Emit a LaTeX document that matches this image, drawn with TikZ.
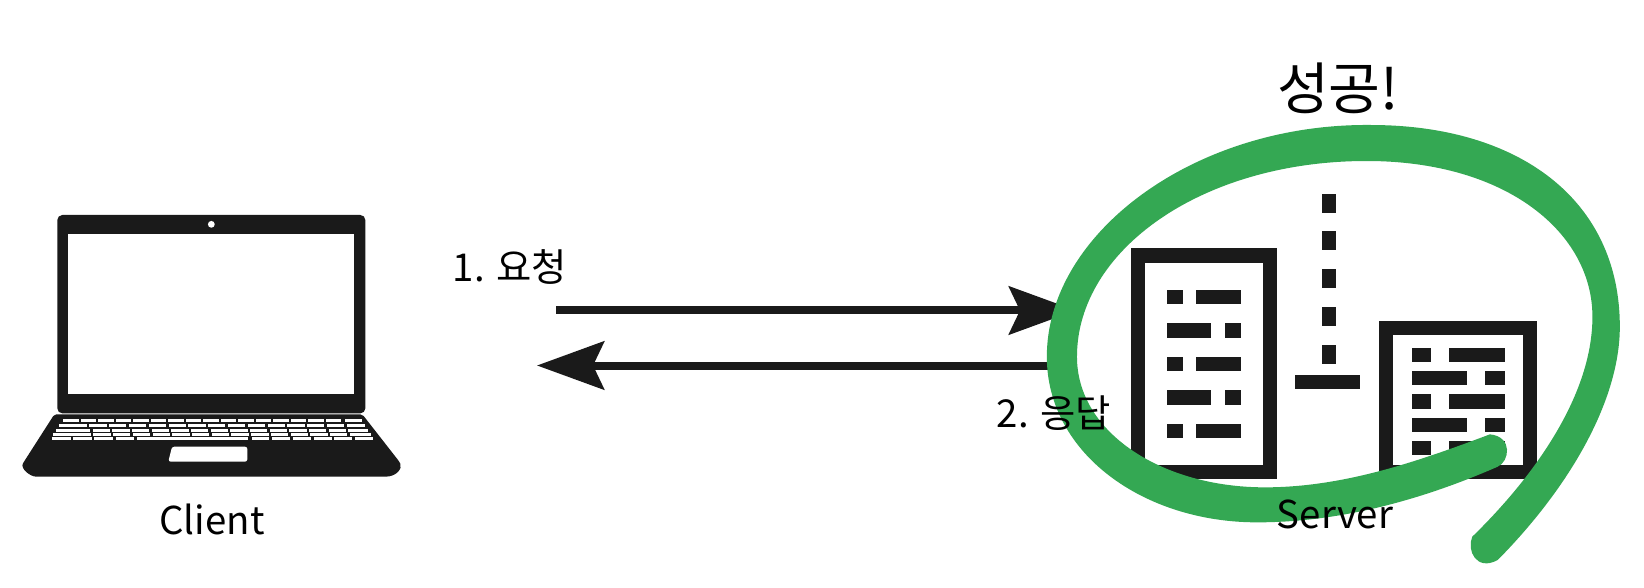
\documentclass[tikz,border=0pt]{standalone}
\usepackage{fontspec}
\setmainfont{Noto Sans CJK KR}
\usetikzlibrary{arrows.meta}
\definecolor{ink}{HTML}{1A1A1A}
\definecolor{ringgreen}{HTML}{34A853}
\tikzset{
 label38/.style={inner sep=0pt,text=black,font=\fontsize{19.2}{22}\selectfont},
 labelbig/.style={inner sep=0pt,text=black,font=\fontsize{28.2}{32}\selectfont},
 flow/.style={ink,line width=4pt,-{Stealth[length=33.5pt,width=24pt,inset=5.5pt]}}
}
\begin{document}
\begin{tikzpicture}[x=0.5pt,y=-0.5pt]
\useasboundingbox (0,0) rectangle (1644,588);
\fill[white] (0,0) rectangle (1644,588);
% laptop
\begin{scope}[shift={(0,200)},x=0.1666667pt,y=-0.1666667pt]
 \fill[ink,rounded corners=2.5pt] (172,45) rectangle (1096,640);
 \fill[white] (205,103) rectangle (1062,583);
 \fill[white] (634,73) circle (1.7pt);
 \fill[ink,rounded corners=1pt] (163,643) -- (1087,643) -- (1198,785)
   .. controls (1208,805) and (1190,830) .. (1150,830) -- (115,830)
   .. controls (90,830) and (60,805) .. (72,785) -- cycle;
 \fill[white,rounded corners=1.2pt] (516,740) -- (742,740) -- (742,785) -- (505,785) -- cycle;
 % keyboard row 0
 \foreach \i in {0,...,15}{
   \fill[white] ({190+\i*52.5},656) rectangle ({190+\i*52.5+46},667);}
 \fill[white] (1035,656) rectangle (1085,667);
 % keyboard rows 1 to 3
 \foreach \ya/\yb/\fa/\fb/\st/\pt/\la/\lb in {671/682/178/262/268/59.4/1040/1095,686/696/168/270/278/59/1045/1105,699/709/160/272/280/59.2/1050/1112}{
   \fill[white] (\fa,\ya) rectangle (\fb,\yb);
   \foreach \i in {0,...,12}{
     \fill[white] ({\st+\i*\pt},\ya) rectangle ({\st+\i*\pt+52},\yb);}
   \fill[white] (\la,\ya) rectangle (\lb,\yb);
 }
 % keyboard row 4
 \foreach \a/\b in {155/212,220/275,283/338,347/402,410/745,755/808,817/870,880/932,941/995,1003/1057,1065/1118}{
   \fill[white] (\a,711) rectangle (\b,721);}
\end{scope}
% arrows
\coordinate (reqS) at (556,310.5);
\coordinate (reqE) at (1076,310.5);
\coordinate (resS) at (1060,365.5);
\coordinate (resE) at (537,365.5);
\draw[flow] (reqS) -- (reqE);
\draw[flow] (resS) -- (resE);
% buildings and ring
\begin{scope}[shift={(1030,100)},x=0.1956947pt,y=-0.1666667pt]
 \fill[ink] (258,445) rectangle (631,1137);
 \fill[white] (293,488) rectangle (596,1095);
 \foreach \y in {569,770,971}{
  \fill[ink] (350,\y) rectangle (390,\y+43);
  \fill[ink] (425,\y) rectangle (538,\y+43);}
 \foreach \y in {670,871}{
  \fill[ink] (350,\y) rectangle (463,\y+43);
  \fill[ink] (498,\y) rectangle (538,\y+43);}
 \foreach \y in {281,394,508,621,734}{
  \fill[ink] (745,\y) rectangle (781,\y+57);}
 \fill[ink] (678,824) rectangle (844,867);
 \fill[ink] (891,662) rectangle (1296,1137);
 \fill[white] (928,705) rectangle (1260,1095);
 \foreach \y in {743,883,1022}{
  \fill[ink] (975,\y) rectangle (1025,\y+43);
  \fill[ink] (1070,\y) rectangle (1213,\y+43);}
 \foreach \y in {813,953}{
  \fill[ink] (975,\y) rectangle (1117,\y+43);
  \fill[ink] (1163,\y) rectangle (1213,\y+43);}
 \fill[ringgreen] (1175,1003)
   .. controls (990,1085) and (800,1162) .. (600,1162)
   .. controls (340,1162) and (120,1000) .. (120,770)
   .. controls (120,450) and (440,183) .. (860,183)
   .. controls (1220,183) and (1437,400) .. (1437,650)
   .. controls (1437,900) and (1270,1150) .. (1130,1310)
   .. controls (1115,1350) and (1140,1415) .. (1195,1380)
   .. controls (1380,1160) and (1507,900) .. (1507,680)
   .. controls (1507,300) and (1250,75) .. (870,75)
   .. controls (420,70) and (43,400) .. (43,770)
   .. controls (43,1060) and (290,1267) .. (580,1267)
   .. controls (800,1267) and (1010,1195) .. (1195,1100)
   .. controls (1225,1085) and (1235,1010) .. (1175,1003) -- cycle;
\end{scope}
% labels
\node[label38] (client) at (212,519.5) {Client};
\node[label38] (server) at (1335,514) {Server};
\node[label38] (req) at (510,267) {1. 요청};
\node[label38] (res) at (1054,413) {2. 응답};
\node[labelbig] (ok) at (1338,88) {성공!};
\end{tikzpicture}
\end{document}
